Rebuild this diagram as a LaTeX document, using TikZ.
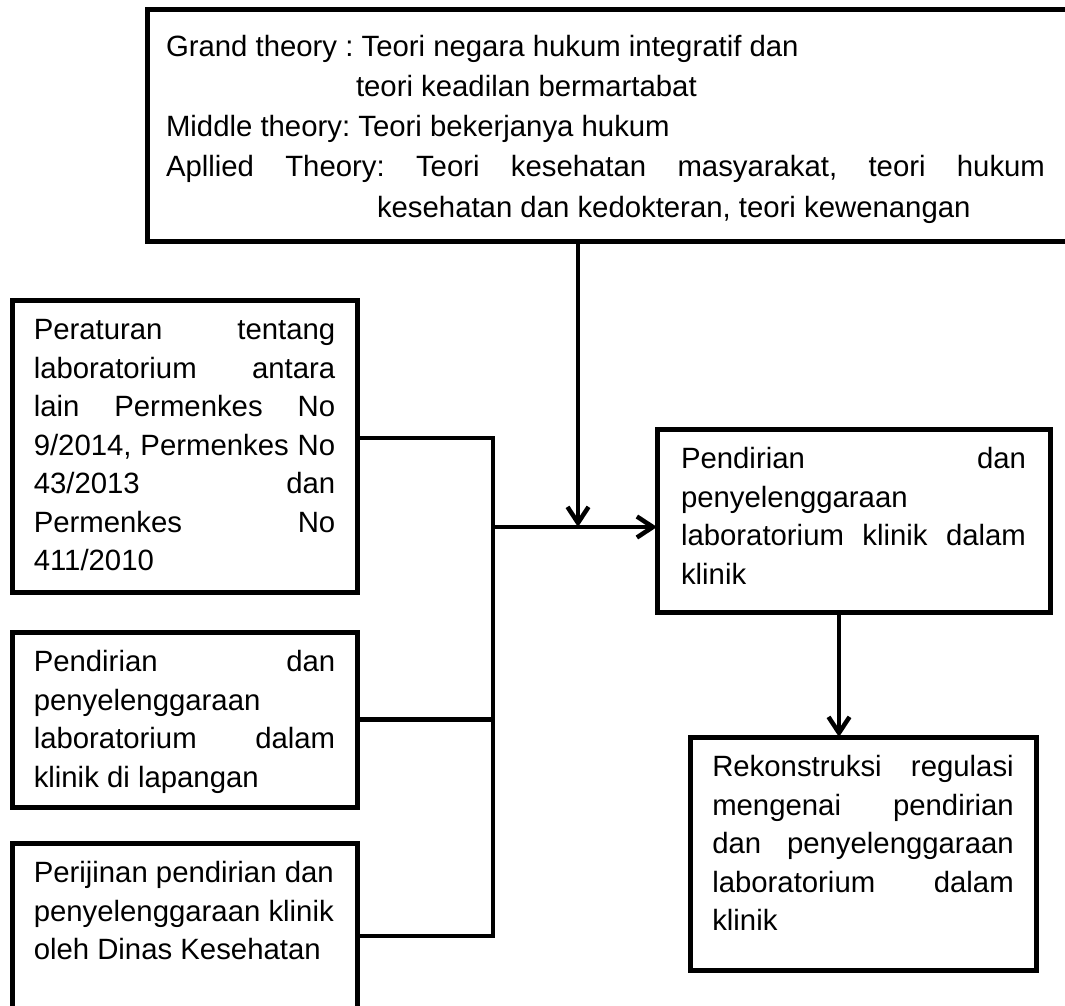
\documentclass[tikz,border=0pt]{standalone}
\usepackage{fontspec}
\setmainfont{Liberation Sans}
\usetikzlibrary{arrows.meta,positioning}
\newcommand{\boxtxt}[3]{\parbox[t][#1][t]{#2}{\frenchspacing\strut#3}}
\newcommand{\bodysize}{\fontsize{29.33}{38.5}\selectfont}
\newcommand{\topsize}{\fontsize{29.33}{40.3}\selectfont}

\begin{document}
\begin{tikzpicture}[
x=1pt,y=-1pt,
blk/.style={draw,line width=5pt,outer sep=0pt,inner xsep=21.75pt,inner ysep=13pt,anchor=north west,font=\bodysize},
ln/.style={line width=4.5pt},
arr/.style={ln,-{Straight Barb[length=16pt,width=21pt]}}
]
\useasboundingbox (0,0) rectangle (1065,1006);
\clip (0,0) rectangle (1065,1006);

\node[blk,inner xsep=19pt,inner ysep=17.8pt,font=\topsize] (tb) at (147,10) {\boxtxt{195.4pt}{920pt}{Grand theory : Teori negara hukum integratif dan\\
\hspace*{190pt}teori keadilan bermartabat\\
Middle theory: Teori bekerjanya hukum\\
\makebox[879pt][s]{Apllied Theory: Teori kesehatan masyarakat, teori hukum}\\
\hspace*{211pt}kesehatan dan kedokteran, teori kewenangan}};

\node[blk] (lb1) at (12,300) {\boxtxt{266pt}{301.5pt}{Peraturan\hfill tentang\\ laboratorium\hfill antara\\ lain\hfill Permenkes\hfill No\\ 9/2014,\hfill Permenkes\hfill No\\ 43/2013\hfill dan\\ Permenkes\hfill No\\ 411/2010}};
\node[blk,below=40pt of lb1] (lb2) {\boxtxt{149pt}{301.5pt}{Pendirian\hfill dan\\ penyelenggaraan\\ laboratorium\hfill dalam\\ klinik di lapangan}};
\node[blk,below=36pt of lb2] (lb3) {\boxtxt{160pt}{301.5pt}{Perijinan pendirian dan\\ penyelenggaraan klinik\\ oleh Dinas Kesehatan}};

\node[blk,inner xsep=24pt] (rb1) at (657,429) {\boxtxt{157pt}{345pt}{Pendirian\hfill dan\\ penyelenggaraan\\ laboratorium\hfill klinik\hfill dalam\\ klinik}};
\node[blk,inner xsep=22.25pt,below right=125pt and 33pt of rb1.south west] (rk) {\boxtxt{207pt}{301.5pt}{Rekonstruksi\hfill regulasi\\ mengenai\hfill pendirian\\ dan\hfill penyelenggaraan\\ laboratorium\hfill dalam\\ klinik}};

\coordinate (bus) at (493,527);
\coordinate (jn) at (578,527);
\draw[ln] ([yshift=8pt]lb1.east) -| (bus) |- (lb3.east); \draw[ln] (lb2.east) -- (lb2.east -| bus);
\draw[arr] (bus) -- (bus -| rb1.west); \draw[arr] (tb.south -| jn) -- (jn);
\draw[arr] ([xshift=-14.5pt]rb1.south) -- ([xshift=-14.5pt]rb1.south |- rk.north);
\end{tikzpicture}
\end{document}
